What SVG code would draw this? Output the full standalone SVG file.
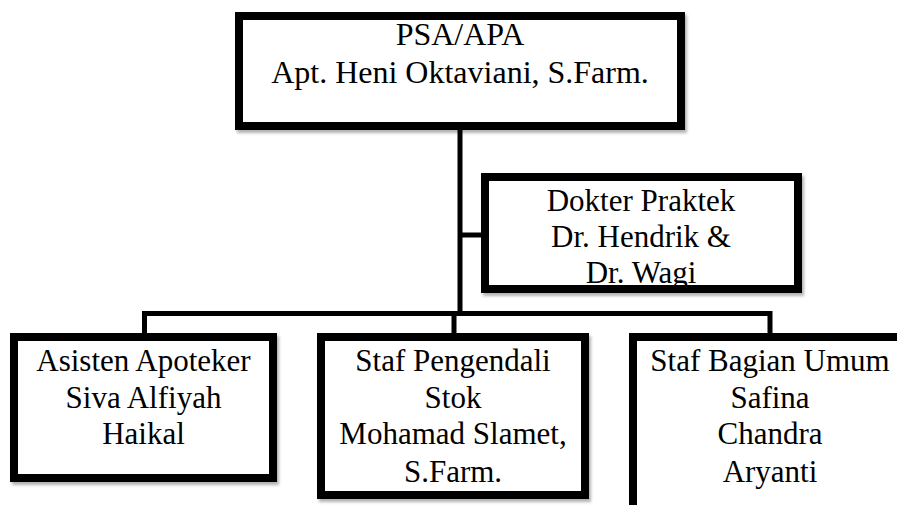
<svg xmlns="http://www.w3.org/2000/svg" width="897" height="505" viewBox="0 0 897 505">
  <defs>
    <filter id="sh" x="-10%" y="-10%" width="130%" height="130%">
      <feDropShadow dx="2" dy="3" stdDeviation="1.5" flood-color="#000" flood-opacity="0.3"/>
    </filter>
  </defs>
  <style>
    .box { fill: #ffffff; stroke: #000000; stroke-width: 8; filter: url(#sh); }
    .conn { fill: none; stroke: #000000; stroke-width: 5; stroke-linejoin: miter; stroke-linecap: butt; }
    text { font-family: 'Liberation Serif', 'DejaVu Serif', serif; font-size: 31px; fill: #000000; text-anchor: middle; }
    .tt { font-size: 32px; }
  </style>
  <rect width="897" height="505" fill="#ffffff"/>
  <g id="connectors">
    <path class="conn" d="M460,128 V316"/>
    <path class="conn" d="M460,235 H483"/>
    <path class="conn" d="M144.5,335 V313.5 H770 V335"/>
    <path class="conn" d="M454,313.5 V335"/>
  </g>
  <g id="node-psa">
    <rect class="box" x="239" y="16" width="442" height="110"/>
    <text class="tt" x="460" y="45" font-family="Liberation Serif">PSA/APA</text>
    <text class="tt" x="460" y="83" font-family="Liberation Serif">Apt. Heni Oktaviani, S.Farm.</text>
  </g>
  <g id="node-dokter">
    <rect class="box" x="485" y="177" width="313" height="112"/>
    <text x="641" y="211">Dokter Praktek</text>
    <text x="641" y="247">Dr. Hendrik &amp;</text>
    <text x="641" y="283">Dr. Wagi</text>
  </g>
  <g id="node-asisten">
    <rect class="box" x="14" y="337" width="259" height="141"/>
    <text x="143.5" y="371">Asisten Apoteker</text>
    <text x="143.5" y="408">Siva Alfiyah</text>
    <text x="143.5" y="444">Haikal</text>
  </g>
  <g id="node-stok">
    <rect class="box" x="321" y="337" width="264" height="158"/>
    <text x="453" y="371">Staf Pengendali</text>
    <text x="453" y="408">Stok</text>
    <text x="453" y="444">Mohamad Slamet,</text>
    <text x="453" y="482">S.Farm.</text>
  </g>
  <g id="node-umum">
    <rect class="box" x="633" y="337" width="290" height="190"/>
    <text x="770" y="371">Staf Bagian Umum</text>
    <text x="770" y="408">Safina</text>
    <text x="770" y="444">Chandra</text>
    <text x="770" y="482">Aryanti</text>
  </g>
</svg>
